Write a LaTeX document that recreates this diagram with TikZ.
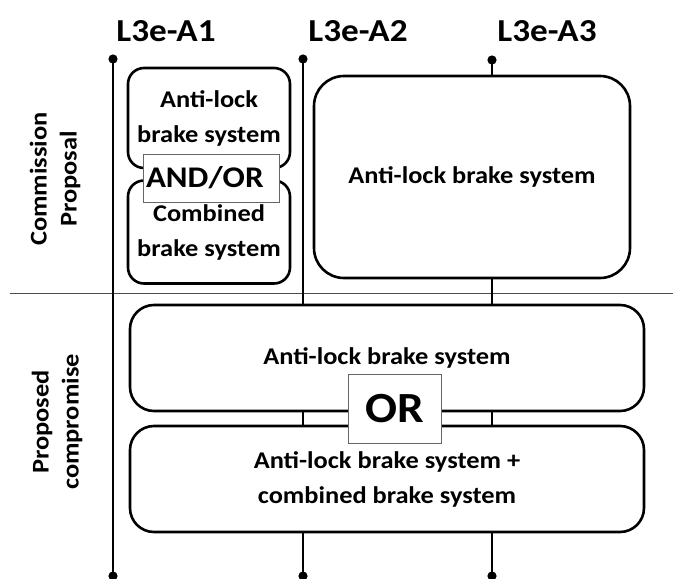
\documentclass[tikz,border=0pt]{standalone}
\usepackage{fontspec}
\setmainfont{Carlito}[FakeStretch=1.1]
\usetikzlibrary{arrows.meta}

\begin{document}
\begin{tikzpicture}[
  x=1pt, y=-1pt,
  hdr/.style={font=\fontsize{32}{36}\selectfont\bfseries},
  rowlabel/.style={rotate=90, align=center, font=\fontsize{24}{30}\selectfont\bfseries},
  sysbox/.style={draw, line width=2.6pt, fill=white, align=center, inner sep=0pt, font=\fontsize{24}{35}\selectfont\bfseries},
  joinbox/.style={draw=black!60, line width=0.8pt, fill=white, inner sep=0pt},
  vline/.style={line width=2.6pt},
  sep/.style={draw=black!70, line width=0.8pt}
]
\useasboundingbox (0,0) rectangle (673,579);

% vehicle categories
\node[hdr] (h1) at (166,31) {L3e-A1};
\node[hdr] (h2) at (358,31) {L3e-A2};
\node[hdr] (h3) at (547,31) {L3e-A3};

\coordinate (t1) at (113,59);  \coordinate (b1) at (113,576);
\coordinate (t2) at (303,59);  \coordinate (b2) at (303,576);
\coordinate (t3) at (492,60);  \coordinate (b3) at (492,576);
\coordinate (sl) at (10,293);  \coordinate (sr) at (673,293);

\draw[sep] (sl) -- (sr);
\draw[vline] (t1) -- (b1);
\draw[vline] (t2) -- (b2);
\draw[vline] (t3) -- (b3);
\foreach \c in {t1,b1,t2,b2,t3,b3}
  \fill (\c) circle (4.6);

% commission proposal
\node[rowlabel] (cp) at (55,179) {Commission\\Proposal};
\node[sysbox, rounded corners=16pt, minimum width=162, minimum height=100] (abs1) at (209,118) {Anti-lock\\brake system};
\node[sysbox, rounded corners=16pt, minimum width=162, minimum height=103] (cbs1) at (209,232) {Combined\\brake system};
\node[joinbox, minimum height=48, text width=130, inner xsep=3pt, align=left, font=\fontsize{30}{32}\selectfont\bfseries] (andor) at (211,178) {AND/OR};
\node[sysbox, rounded corners=30pt, minimum width=316, minimum height=202] (abs23) at (472,177) {Anti-lock brake system};

% proposed compromise
\node[rowlabel] (pc) at (57,422) {Proposed\\compromise};
\node[sysbox, rounded corners=24pt, minimum width=514, minimum height=106] (absall) at (387,358) {Anti-lock brake system};
\node[sysbox, rounded corners=24pt, minimum width=514, minimum height=106] (comball) at (387,479) {Anti-lock brake system +\\combined brake system};
\node[joinbox, minimum width=93, minimum height=69, align=center, font=\fontsize{43}{50}\selectfont\bfseries] (or) at (394.5,408.5) {OR};
\end{tikzpicture}
\end{document}
